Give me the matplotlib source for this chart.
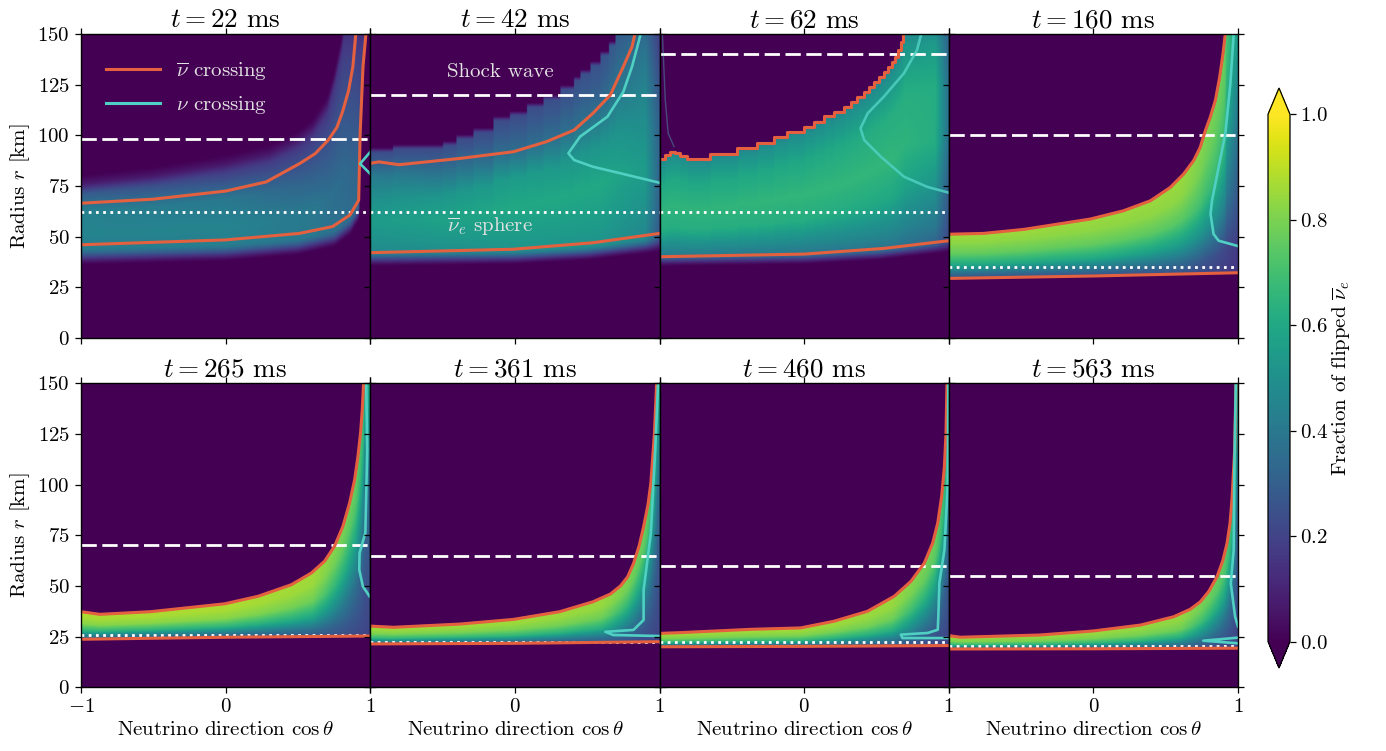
import numpy as np
import matplotlib
matplotlib.use("Agg")
import matplotlib.pyplot as plt
from matplotlib.lines import Line2D

plt.rcParams['font.family'] = 'serif'
plt.rcParams['font.serif'] = ['cmr10', 'DejaVu Serif']
plt.rcParams['mathtext.fontset'] = 'cm'
plt.rcParams['axes.formatter.use_mathtext'] = True
plt.rcParams['axes.unicode_minus'] = True

# ---------------- data ----------------
times_ms = [22, 42, 62, 160, 265, 361, 460, 563]
shock_r = [98, 120, 140, 100, 70, 65, 60, 55]
sphere_r = [62, 62, 62, 35, 26, 22.5, 22.3, 20.5]

# upper nu-bar crossing line (cos theta, r)
nubar_up_cos = [
    [-1.0, -0.5, 0.0, 0.28, 0.51, 0.62, 0.71, 0.77, 0.81, 0.85, 0.88, 0.90],
    [-1.0, -0.94, -0.80, -0.38, -0.01, 0.22, 0.41, 0.54, 0.66, 0.75, 0.81, 0.83],
    [-1.0, -0.96, -0.926, -0.89, -0.86, -0.81, -0.649, -0.464, -0.325, -0.209, -0.117,
     -0.001, 0.068, 0.138, 0.207, 0.276, 0.322, 0.369, 0.415, 0.450, 0.484, 0.519,
     0.554, 0.581, 0.605, 0.628, 0.651, 0.669, 0.683],
    [-1.0, -0.76, -0.48, -0.021, 0.209, 0.394, 0.532, 0.624, 0.693, 0.739, 0.774,
     0.808, 0.843, 0.873, 0.896, 0.912],
    [-1.0, -0.87, -0.52, -0.006, 0.224, 0.454, 0.593, 0.684, 0.753, 0.811, 0.857,
     0.892, 0.915, 0.933, 0.945, 0.954],
    [-1.0, -0.84, -0.38, -0.01, 0.31, 0.54, 0.66, 0.73, 0.78, 0.82, 0.86, 0.89, 0.92,
     0.94, 0.965, 0.98],
    [-1.0, -0.88, -0.37, -0.024, 0.207, 0.438, 0.623, 0.739, 0.831, 0.889, 0.924,
     0.951, 0.970, 0.981, 0.988],
    [-1.0, -0.92, -0.37, 0.0, 0.325, 0.555, 0.67, 0.74, 0.80, 0.855, 0.895, 0.924,
     0.945, 0.958, 0.977, 0.986],
]
nubar_up_r = [
    [66.5, 68.5, 72.5, 77, 86, 91, 97.7, 104, 112, 122, 134, 150],
    [86.2, 86.9, 85.5, 88.6, 91.9, 96.9, 102.6, 110.9, 119.9, 133.9, 143.7, 150],
    [88.2, 90.4, 92.0, 91.5, 89.8, 88.2, 90.8, 93.6, 96.1, 99.1, 101.4,
     104.3, 106.8, 109.3, 111.7, 114.2, 116.6, 119.1, 121.5, 124.0, 126.5, 129.0,
     131.4, 133.9, 136.4, 138.8, 142.1, 146.2, 150],
    [51.2, 51.6, 53.6, 58.7, 62.8, 67.7, 74.3, 80.9, 87.5, 94.1, 102.3,
     108.9, 117.1, 128.6, 140.1, 150],
    [37.3, 36.0, 37.3, 41.2, 44.9, 50.6, 56.4, 62.2, 69.6, 79.4, 90.9,
     102.4, 114.0, 125.5, 137.0, 150],
    [30.2, 29.6, 31.2, 33.5, 37.3, 42.2, 46.0, 50.0, 54.5, 61.0, 70.0, 79.2, 90.0,
     100.6, 125.3, 150],
    [26.6, 26.9, 28.6, 29.3, 32.6, 37.5, 44.9, 52.3, 61.3, 71.2, 81.1,
     94.2, 109.0, 125.5, 150],
    [25.5, 24.7, 25.8, 27.8, 30.7, 34.8, 38.5, 42.2, 47.5, 54.6, 62.5, 71.0,
     81.0, 92.4, 117.1, 150],
]
nubar_up_steps = [False, False, True, False, False, False, False, False]

# lower nu-bar crossing line
nubar_lo_cos = [
    [-1.0, 0.0, 0.51, 0.74, 0.86, 0.92, 0.93, 0.95, 0.97],
    [-1.0, -0.01, 0.54, 1.0],
    [-1.0, 0.0, 0.55, 1.0],
    [-1.0, 0.0, 1.0],
    [-1.0, 0.0, 1.0],
    [-1.0, 0.0, 1.0],
    [-1.0, 0.0, 1.0],
    [-1.0, 0.0, 1.0],
]
nubar_lo_r = [
    [46, 48.4, 51.6, 55, 60.7, 68, 101, 134, 150],
    [42.1, 43.8, 47.0, 51.6],
    [40.1, 41.4, 44.2, 48.0],
    [29.4, 30.6, 32.2],
    [23.7, 24.7, 25.3],
    [21.4, 21.7, 22.5],
    [20.0, 20.2, 20.6],
    [18.9, 19.0, 19.3],
]

# nu crossing line (nan separates pieces)
nu_cos = [
    [1.0, 0.93, 1.0],
    [0.87, 0.81, 0.75, 0.64, 0.45, 0.37, 0.41, 0.54, 0.78, 1.0],
    [0.81, 0.78, 0.69, 0.55, 0.44, 0.39, 0.415, 0.53, 0.69, 0.85, 1.0],
    [0.97, 0.947, 0.912, 0.866, 0.82, 0.81, 0.831, 0.866, 0.993],
    [0.972, 0.979, 0.966, 0.926, 0.924, 0.949, 0.995],
    [0.99, 0.97, 0.94, 0.89, 0.89, 0.82, 0.625, 0.68, 1.0],
    [0.997, 0.993, 0.97, 0.935, 0.928, 0.924, 0.854, 0.669, 0.68, 1.0],
    [0.985, 0.975, 0.97, 0.95, 0.98, 1.0, np.nan, 1.0, 0.76, 1.0],
]
nu_r = [
    [91.8, 86, 81],
    [150, 133.9, 121.5, 109.2, 99.3, 91.1, 87.8, 84.5, 80.4, 76.6],
    [150, 142, 130.6, 119, 110.9, 103.5, 97.7, 89.5, 79.6, 74.6, 71.7],
    [150, 125.3, 100.6, 84.2, 67.7, 61.2, 51.3, 48.0, 45.5],
    [150, 117.2, 76.1, 66.3, 58.0, 49.8, 44.9],
    [150, 117.1, 76, 48, 33.2, 28.3, 27.4, 25.8, 25.3],
    [150, 100.8, 67.9, 51.5, 35.0, 28.4, 26.8, 26.0, 24.3, 24.3],
    [150, 110, 67.7, 51.3, 34.8, 30, np.nan, 24.5, 23.0, 21.7],
]
# faint nu contour near the left edge at t = 62 ms
faint_nu_cos = [-0.98, -0.96, -0.94, -0.90]
faint_nu_r = [150, 117.4, 101, 94.5]

# edges of the coloured region (early panels; later panels use the crossing lines)
field_lo_cos = [
    [-1.0, 0.0, 0.5, 0.75, 0.86, 0.92, 0.93, 0.95, 0.965],
    [-1.0, 0.0, 0.5, 1.0],
    [-1.0, 0.0, 0.5, 1.0],
]
field_lo_r = [
    [40, 42, 45, 49, 55, 62, 95, 130, 160],
    [39, 40, 42, 46],
    [38, 39, 41, 45],
]
field_hi_cos = [
    [-1.0, -0.5, 0.0, 0.3, 0.5, 0.6, 0.7, 0.75, 0.8, 0.85],
    [-1.0, -0.843, -0.496, -0.403, -0.288, -0.149, -0.034, 0.082, 0.198, 0.313,
     0.406, 0.452, 0.521, 0.591, 0.649, 0.695],
    None,
]
field_hi_r = [
    [76, 80, 86, 91, 98, 104, 115, 128, 145, 170],
    [92.8, 94.4, 96.1, 99.3, 102.6, 108.4, 110.9, 115.0, 118.8, 123.7,
     128.1, 131.4, 135.5, 140.5, 145.4, 150],
    None,
]
field_hi_steps = [False, True, True]
soft_lo_km = [9, 8, 6, 1.2, 1.0, 1.0, 0.9, 0.9]
soft_hi_km = [11, 3, 1.5, 1.2, 1.0, 1.0, 0.9, 0.9]

# fraction of flipped anti-nu_e across the band (rows: s nodes, cols: cos nodes)
val_cos = [-1.0, 0.0, 0.6, 0.9, 1.0]
val_s_early = [
    [0, 0.3, 0.6, 0.85, 1.0],
    [0, 0.15, 0.35, 0.55, 0.75, 0.9, 1.0],
    [0, 0.1, 0.3, 0.5, 0.75, 0.95, 1.0],
]
val_s_late = [0, 0.1, 0.3, 0.55, 0.8, 1.0]
frac_vals = [
    [[0.40, 0.42, 0.40, 0.35, 0.20],
     [0.45, 0.45, 0.40, 0.32, 0.20],
     [0.44, 0.40, 0.30, 0.25, 0.15],
     [0.30, 0.22, 0.20, 0.20, 0.12],
     [0.15, 0.12, 0.12, 0.15, 0.10]],
    [[0.45, 0.50, 0.50, 0.45, 0.25],
     [0.50, 0.55, 0.55, 0.50, 0.30],
     [0.55, 0.60, 0.60, 0.55, 0.32],
     [0.50, 0.55, 0.52, 0.50, 0.30],
     [0.42, 0.35, 0.36, 0.45, 0.25],
     [0.28, 0.27, 0.28, 0.40, 0.20],
     [0.22, 0.22, 0.25, 0.35, 0.18]],
    [[0.35, 0.35, 0.35, 0.30, 0.20],
     [0.45, 0.45, 0.45, 0.40, 0.22],
     [0.62, 0.62, 0.60, 0.52, 0.28],
     [0.65, 0.66, 0.66, 0.62, 0.35],
     [0.60, 0.60, 0.62, 0.62, 0.35],
     [0.50, 0.50, 0.50, 0.55, 0.30],
     [0.45, 0.45, 0.45, 0.50, 0.30]],
    [[0.25, 0.25, 0.25, 0.18, 0.15],
     [0.35, 0.35, 0.33, 0.22, 0.18],
     [0.60, 0.60, 0.55, 0.45, 0.27],
     [0.76, 0.76, 0.74, 0.65, 0.38],
     [0.83, 0.83, 0.83, 0.74, 0.50],
     [0.86, 0.85, 0.85, 0.78, 0.55]],
    [[0.30, 0.30, 0.28, 0.22, 0.20],
     [0.40, 0.40, 0.36, 0.26, 0.22],
     [0.65, 0.65, 0.60, 0.35, 0.26],
     [0.82, 0.82, 0.78, 0.55, 0.35],
     [0.87, 0.87, 0.85, 0.72, 0.55],
     [0.88, 0.88, 0.86, 0.78, 0.62]],
    [[0.30, 0.30, 0.28, 0.22, 0.20],
     [0.42, 0.42, 0.38, 0.26, 0.22],
     [0.66, 0.66, 0.62, 0.38, 0.27],
     [0.80, 0.80, 0.78, 0.58, 0.38],
     [0.85, 0.85, 0.84, 0.74, 0.58],
     [0.86, 0.86, 0.85, 0.78, 0.65]],
    [[0.30, 0.30, 0.28, 0.22, 0.20],
     [0.42, 0.42, 0.38, 0.26, 0.22],
     [0.66, 0.66, 0.62, 0.38, 0.27],
     [0.80, 0.80, 0.78, 0.58, 0.38],
     [0.85, 0.85, 0.84, 0.74, 0.58],
     [0.86, 0.86, 0.85, 0.78, 0.65]],
    [[0.30, 0.30, 0.28, 0.22, 0.20],
     [0.42, 0.42, 0.38, 0.26, 0.22],
     [0.66, 0.66, 0.62, 0.38, 0.27],
     [0.80, 0.80, 0.78, 0.58, 0.38],
     [0.84, 0.84, 0.83, 0.72, 0.55],
     [0.85, 0.85, 0.84, 0.76, 0.60]],
]
hi_cap_km = [150, 150, 150, 170, 170, 170, 170, 170]

ORANGE = '#e4603f'
CYAN = '#4fd0c2'
TXT = '#e2e2e2'


def curve_at(c, xs, ys, steps, right):
    xs = np.asarray(xs, float)
    ys = np.asarray(ys, float)
    if steps:
        idx = np.clip(np.searchsorted(xs, c, side='right') - 1, 0, len(xs) - 1)
        out = ys[idx]
        out = np.where(c > xs[-1] + 0.004, right, out)
        return out
    return np.interp(c, xs, ys, right=right)


def smooth(t):
    t = np.clip(t, 0, 1)
    return t * t * (3 - 2 * t)


def build_field(i, cgrid, rgrid):
    if i < 3:
        lo_c, lo_r = field_lo_cos[i], field_lo_r[i]
        if field_hi_cos[i] is None:
            hi_c, hi_r, st = nubar_up_cos[i], nubar_up_r[i], nubar_up_steps[i]
        else:
            hi_c, hi_r, st = field_hi_cos[i], field_hi_r[i], field_hi_steps[i]
        s_nodes = val_s_early[i]
    else:
        lo_c, lo_r = nubar_lo_cos[i], nubar_lo_r[i]
        hi_c, hi_r, st = nubar_up_cos[i], nubar_up_r[i], nubar_up_steps[i]
        s_nodes = val_s_late
    lo = curve_at(cgrid, lo_c, lo_r, False, 1e3)
    hi = curve_at(cgrid, hi_c, hi_r, st, 1e3)
    hs = np.minimum(hi, hi_cap_km[i])
    vals = np.asarray(frac_vals[i], float)
    rows = np.array([np.interp(cgrid, val_cos, vals[k]) for k in range(len(s_nodes))])
    F = np.zeros((len(rgrid), len(cgrid)))
    for j in range(len(cgrid)):
        span = max(hs[j] - lo[j], 1.0)
        s = np.clip((rgrid - lo[j]) / span, 0, 1)
        v = np.interp(s, s_nodes, rows[:, j])
        m = smooth((rgrid - lo[j]) / soft_lo_km[i] + 0.5) * smooth((hi[j] - rgrid) / soft_hi_km[i] + 0.5)
        F[:, j] = v * m
    return F


fig = plt.figure(figsize=(13.86, 7.51), dpi=100)
W, H = 1386.0, 751.0
left_px, panel_w = 81.0, 289.25
rows_px = [(34.0, 338.0), (383.3, 687.3)]

cgrid = np.linspace(-1, 1, 580)
rgrid = np.linspace(0, 150, 700)

im = None
axes = []
for i in range(8):
    row, col = divmod(i, 4)
    top, bot = rows_px[row]
    ax = fig.add_axes([(left_px + col * panel_w) / W, 1 - bot / H, panel_w / W, (bot - top) / H])
    axes.append(ax)
    F = build_field(i, cgrid, rgrid)
    im = ax.imshow(F, extent=[-1, 1, 0, 150], origin='lower', aspect='auto',
                   cmap='viridis', vmin=0, vmax=1, interpolation='bilinear')
    ax.axhline(shock_r[i], color='white', lw=2.0, dashes=(5.5, 2.0))
    ax.axhline(sphere_r[i], color='white', lw=2.0, ls=(0, (1, 1.6)))
    ax.plot(nubar_lo_cos[i], nubar_lo_r[i], color=ORANGE, lw=2.2, solid_joinstyle='round')
    ax.plot(nubar_up_cos[i], nubar_up_r[i], color=ORANGE, lw=2.2, solid_joinstyle='round',
            drawstyle='steps-post' if nubar_up_steps[i] else 'default')
    ax.plot(nu_cos[i], nu_r[i], color=CYAN, lw=1.9, solid_joinstyle='round',
            alpha=0.85 if i == 2 else 1.0)
    if i == 2:
        ax.plot(faint_nu_cos, faint_nu_r, color=CYAN, lw=1.0, alpha=0.35)
    ax.set_xlim(-1, 1)
    ax.set_ylim(0, 150)
    ax.set_xticks([-1, 0, 1])
    ax.set_yticks([0, 25, 50, 75, 100, 125, 150])
    ax.tick_params(direction='out', top=True, right=True, labelsize=15, length=4.5, width=0.9)
    ax.set_title(r'$t = %d$ ms' % times_ms[i], fontsize=19.5, pad=5)
    if col != 0:
        ax.set_yticklabels([])
    else:
        ax.set_ylabel(r'Radius $r$ [km]', fontsize=15, labelpad=4)
    if row == 0:
        ax.set_xticklabels([])
    else:
        ax.set_xlabel(r'Neutrino direction $\cos\theta$', fontsize=15, labelpad=3)
        if col != 0:
            ax.set_xticklabels(['', r'$0$', r'$1$'])
    for sp in ax.spines.values():
        sp.set_linewidth(1.0)

handles = [Line2D([], [], color=ORANGE, lw=2.2), Line2D([], [], color=CYAN, lw=2.2)]
leg = axes[0].legend(handles, [r'$\overline{\nu}$ crossing', r'$\nu$ crossing'],
                     loc='upper left', bbox_to_anchor=(0.02, 0.975), frameon=False,
                     fontsize=15, handlelength=2.6, labelspacing=0.55, handletextpad=0.8)
for t in leg.get_texts():
    t.set_color(TXT)

axes[1].text(-0.1, 131, 'Shock wave', color=TXT, fontsize=15, ha='center', va='center')
axes[1].text(-0.17, 55, r'$\overline{\nu}_e$ sphere', color=TXT, fontsize=15, ha='center', va='center')

cax = fig.add_axes([1268 / W, 1 - 668 / H, 22 / W, 580 / H])
cb = fig.colorbar(im, cax=cax, extend='both', ticks=[0, 0.2, 0.4, 0.6, 0.8, 1.0])
cb.ax.tick_params(labelsize=15, length=4, width=0.9)
cb.ax.set_yticklabels([r'$0.0$', r'$0.2$', r'$0.4$', r'$0.6$', r'$0.8$', r'$1.0$'])
cb.set_label(r'Fraction of flipped $\overline{\nu}_e$', fontsize=15, labelpad=2)
cb.outline.set_linewidth(0.9)

fig.savefig('out.png', dpi=100)
